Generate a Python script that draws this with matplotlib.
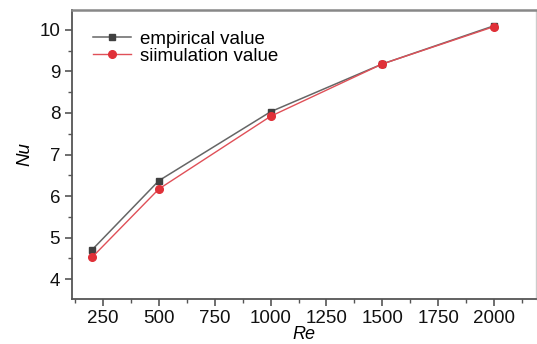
import matplotlib.pyplot as plt
from matplotlib.ticker import MultipleLocator

plt.rcParams['font.family'] = ['Liberation Sans', 'DejaVu Sans']

re_vals = [200, 500, 1000, 1500, 2000]
nu_empirical = [4.70, 6.37, 8.03, 9.18, 10.10]
nu_simulation = [4.52, 6.17, 7.92, 9.18, 10.08]

fig = plt.figure(figsize=(5.37, 3.44), dpi=100)
ax = fig.add_axes([72 / 537, 45 / 344, 464 / 537, 289 / 344])

ax.plot(re_vals, nu_empirical, color='#666666', lw=1.1, marker='s', ms=5,
        mfc='#404040', mec='#404040', label='empirical value')
ax.plot(re_vals, nu_simulation, color='#e05058', lw=1.0, marker='o', ms=5.5,
        mfc='#e03038', mec='#e03038', label='siimulation value')

ax.set_xlim(111, 2188)
ax.set_ylim(3.52, 10.48)
ax.xaxis.set_major_locator(MultipleLocator(250))
ax.xaxis.set_minor_locator(MultipleLocator(125))
ax.yaxis.set_major_locator(MultipleLocator(1))
ax.yaxis.set_minor_locator(MultipleLocator(0.5))

ax.tick_params(which='both', direction='out', colors='#555555', labelcolor='#111111',
               labelsize=13.5)
ax.tick_params(which='major', length=5, width=1.2)
ax.tick_params(which='minor', length=3, width=1.0)
ax.tick_params(axis='x', pad=3)

for side in ['left', 'bottom']:
    ax.spines[side].set_color('#555555')
    ax.spines[side].set_linewidth(1.3)
ax.spines['top'].set_color('#888888')
ax.spines['top'].set_linewidth(1.8)
ax.spines['right'].set_color('#cccccc')
ax.spines['right'].set_linewidth(1.0)

ax.set_xlabel('Re', fontsize=13, style='italic', labelpad=-1)
ax.set_ylabel('Nu', fontsize=13.5, style='italic', labelpad=4)

ax.legend(loc='upper left', frameon=False, fontsize=13.5, handlelength=2.0,
          labelspacing=0.0, handletextpad=0.5, borderaxespad=0.0,
          bbox_to_anchor=(0.03, 0.955))

fig.savefig('out.png', dpi=100)
